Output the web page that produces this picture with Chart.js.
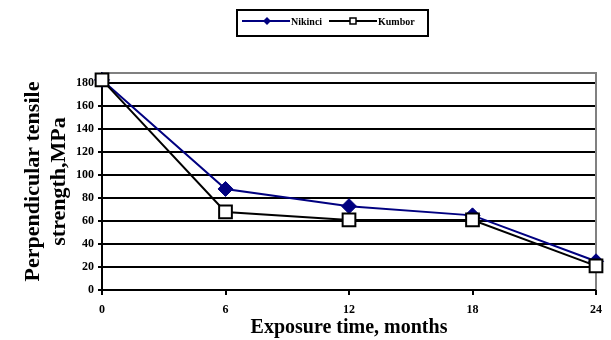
<!DOCTYPE html>
<html>
<head>
<meta charset="utf-8">
<script src="https://cdn.jsdelivr.net/npm/chart.js@4.4.1/dist/chart.umd.min.js"></script>
<style>
  html, body { margin: 0; padding: 0; background: #fff; }
  #wrap { width: 611px; height: 340px; position: relative; }
</style>
</head>
<body>
<div id="wrap"><canvas id="c" width="611" height="340"></canvas></div>
<script>
// Exposure time (months) and tensile strength (MPa) for the two samples
const months = ['0', '6', '12', '18', '24'];
const nikinci = [183, 88, 73, 65, 25];
const kumbor = [183, 68, 61, 61, 21];
const seriesNames = ['Nikinci', 'Kumbor'];
const yTickValues = [0, 20, 40, 60, 80, 100, 120, 140, 160, 180];
const yTitle = ['Perpendicular tensile', 'strength,MPa'];
const xTitle = 'Exposure time, months';

const SERIF = '"Liberation Serif", "Times New Roman", serif';
const NAVY = '#000080';

// Boxed legend with line + marker samples, plus gray top/right plot frame
const decor = {
  id: 'decor',
  beforeDatasetsDraw(chart) {
    const { ctx, chartArea: a } = chart;
    ctx.save();
    ctx.strokeStyle = '#808080';
    ctx.lineWidth = 2;
    ctx.beginPath();
    ctx.moveTo(a.left, a.top);
    ctx.lineTo(a.right, a.top);
    ctx.lineTo(a.right, a.bottom);
    ctx.stroke();
    ctx.strokeStyle = '#000';
    ctx.beginPath();
    ctx.moveTo(a.left, a.top);
    ctx.lineTo(a.left, a.bottom);
    ctx.lineTo(a.right, a.bottom);
    ctx.stroke();
    ctx.restore();
  },
  afterDraw(chart) {
    const { ctx } = chart;
    ctx.save();
    ctx.strokeStyle = '#000';
    ctx.lineWidth = 2;
    ctx.strokeRect(237, 10, 191, 26);
    ctx.font = 'bold 10px ' + SERIF;
    ctx.textBaseline = 'middle';
    ctx.fillStyle = '#000';
    const y = 21;
    // Nikinci sample
    ctx.strokeStyle = NAVY;
    ctx.lineWidth = 2;
    ctx.beginPath(); ctx.moveTo(242, y); ctx.lineTo(290, y); ctx.stroke();
    ctx.fillStyle = NAVY;
    ctx.beginPath();
    ctx.moveTo(267, y - 4); ctx.lineTo(271, y); ctx.lineTo(267, y + 4); ctx.lineTo(263, y);
    ctx.closePath(); ctx.fill();
    ctx.fillStyle = '#000';
    ctx.fillText(seriesNames[0], 291, y + 1);
    // Kumbor sample
    ctx.strokeStyle = '#000';
    ctx.beginPath(); ctx.moveTo(329, y); ctx.lineTo(377, y); ctx.stroke();
    ctx.fillStyle = '#fff';
    ctx.fillRect(350, y - 3, 6, 6);
    ctx.lineWidth = 1.5;
    ctx.strokeRect(350, y - 3, 6, 6);
    ctx.fillStyle = '#000';
    ctx.fillText(seriesNames[1], 378, y + 1);
    ctx.restore();
  }
};

new Chart(document.getElementById('c'), {
  type: 'line',
  data: {
    labels: months,
    datasets: [
      {
        label: seriesNames[1],
        data: kumbor,
        order: 0,
        borderColor: '#000',
        borderWidth: 2,
        pointStyle: 'rect',
        pointRadius: 9,
        pointBackgroundColor: '#fff',
        pointBorderColor: '#000',
        pointBorderWidth: 2,
        tension: 0,
        clip: false
      },
      {
        label: seriesNames[0],
        data: nikinci,
        order: 1,
        borderColor: NAVY,
        borderWidth: 2,
        pointStyle: 'rectRot',
        pointRadius: 7.5,
        pointBackgroundColor: NAVY,
        pointBorderColor: NAVY,
        pointBorderWidth: 1,
        tension: 0,
        clip: false
      }
    ]
  },
  options: {
    responsive: false,
    animation: false,
    events: [],
    layout: { padding: { top: 73, right: 14, left: 0, bottom: 0 } },
    plugins: { legend: { display: false }, tooltip: { enabled: false } },
    scales: {
      x: {
        offset: false,
        afterFit(s) { s.height = 50; },
        grid: { drawOnChartArea: false, drawTicks: true, tickLength: 5, color: '#000', lineWidth: 2 },
        border: { display: true, color: '#000', width: 2 },
        ticks: { color: '#000', font: { family: SERIF, size: 12, weight: 'bold', lineHeight: 1 }, padding: 9, maxRotation: 0 },
        title: {
          display: true, text: xTitle, color: '#000',
          font: { family: SERIF, size: 20, weight: 'bold', lineHeight: 1.1 },
          padding: { top: 0, bottom: 1 }
        }
      },
      y: {
        min: 0, max: 189,
        afterFit(s) { s.width = 102; },
        afterBuildTicks(s) { s.ticks = yTickValues.map(v => ({ value: v })); },
        grid: { color: '#000', lineWidth: 2, tickLength: 4 },
        border: { display: true, color: '#000', width: 2 },
        ticks: { color: '#000', font: { family: SERIF, size: 12, weight: 'bold' }, padding: 4 },
        title: {
          display: true, text: yTitle, color: '#000',
          font: { family: SERIF, size: 22, weight: 'bold', lineHeight: 1.2 },
          padding: { top: 20, bottom: 0 }
        }
      }
    }
  },
  plugins: [decor]
});
</script>
</body>
</html>
